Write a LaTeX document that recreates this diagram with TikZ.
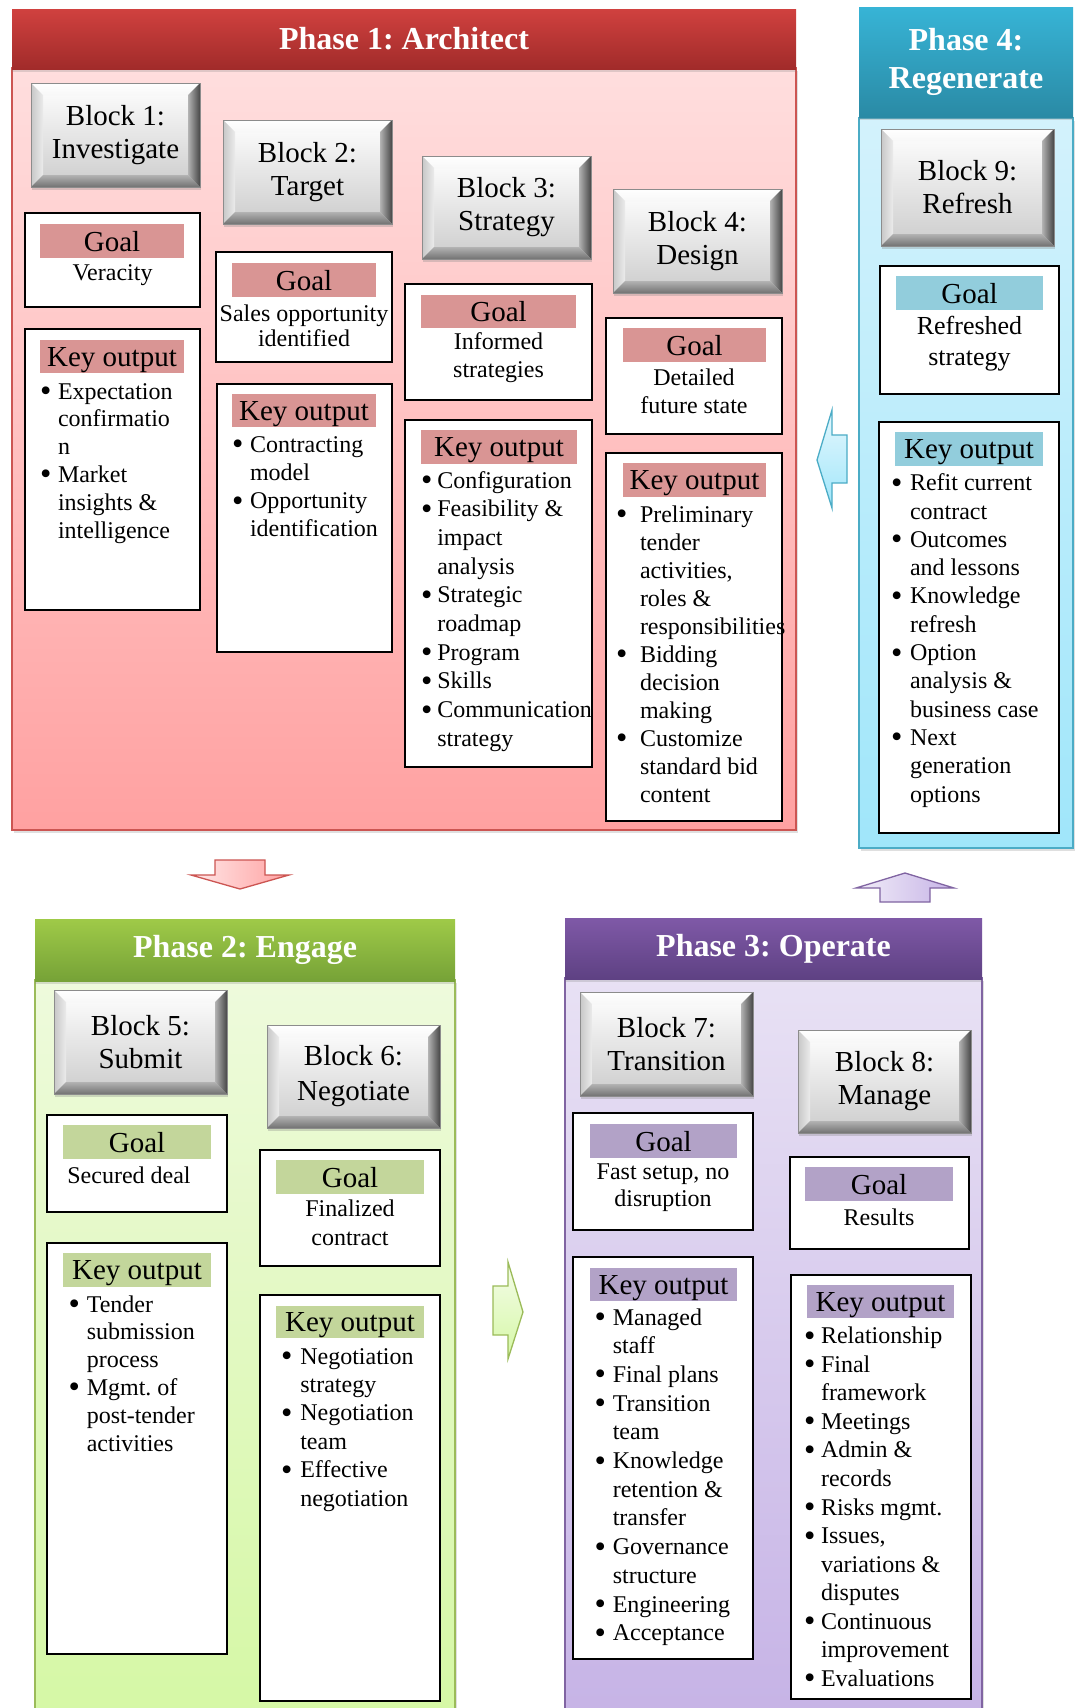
\documentclass[tikz,border=0pt]{standalone}
\usepackage{graphicx}
\usepackage{fontspec}
\setmainfont{Liberation Serif}
\usetikzlibrary{shadows}
\frenchspacing

\definecolor{p1hTop}{HTML}{D0413F}
\definecolor{p1hBot}{HTML}{A12B2A}
\definecolor{p1bTop}{HTML}{FFDEDE}
\definecolor{p1bBot}{HTML}{FFA1A1}
\definecolor{p1line}{HTML}{CC5552}
\definecolor{p1band}{HTML}{D99594}
\definecolor{p4hTop}{HTML}{37B4D6}
\definecolor{p4hBot}{HTML}{2A8AA5}
\definecolor{p4bTop}{HTML}{D3F2FC}
\definecolor{p4bBot}{HTML}{A0E6FA}
\definecolor{p4line}{HTML}{4BACC6}
\definecolor{p4band}{HTML}{92CDDC}
\definecolor{p2hTop}{HTML}{9FCA48}
\definecolor{p2hBot}{HTML}{76A237}
\definecolor{p2bTop}{HTML}{EEFADC}
\definecolor{p2bBot}{HTML}{D5F8A5}
\definecolor{p2line}{HTML}{9BBB59}
\definecolor{p2band}{HTML}{C3D69B}
\definecolor{p3hTop}{HTML}{7F59A7}
\definecolor{p3hBot}{HTML}{5E4183}
\definecolor{p3bTop}{HTML}{E8E1F4}
\definecolor{p3bBot}{HTML}{C6B3E6}
\definecolor{p3line}{HTML}{8064A2}
\definecolor{p3band}{HTML}{B2A2C7}

\newcommand{\kb}{\raisebox{-2.5pt}{\scalebox{1.35}{\textbullet}}}
\newcommand{\klist}[3]{{\fontsize{24}{#1}\selectfont\frenchspacing\begin{tabular}[t]{@{}p{#2}@{}l@{}}#3\end{tabular}}}

\tikzset{
  panelhead/.style={inner sep=0pt, outer sep=0pt, text=white, align=center,
    font=\fontsize{32}{38}\selectfont\bfseries,
    drop shadow={opacity=0.25, shadow xshift=0pt, shadow yshift=-3pt}},
  panelbody/.style={inner sep=0pt, outer sep=0pt, line width=1.5pt,
    drop shadow={opacity=0.25, shadow xshift=2pt, shadow yshift=-3pt}},
  bevelblock/.style={inner sep=0pt, outer sep=0pt, align=center,
    font=\fontsize{29}{33}\selectfont, draw=black!45, line width=0.4pt,
    drop shadow={opacity=0.3, shadow xshift=1pt, shadow yshift=-3pt},
    path picture={
      \path (path picture bounding box.south west) coordinate (bbsw)
            (path picture bounding box.north east) coordinate (bbne)
            (path picture bounding box.north west) coordinate (bbnw)
            (path picture bounding box.south east) coordinate (bbse);
      \shade[top color=white, bottom color=black!20] (bbsw) rectangle (bbne);
      \shade[top color=white, bottom color=black!3]
        (bbnw) -- (bbne) -- ([xshift=-12pt,yshift=-12pt]bbne) -- ([xshift=12pt,yshift=-12pt]bbnw) -- cycle;
      \shade[left color=black!22, right color=black!8]
        (bbnw) -- ([xshift=12pt,yshift=-12pt]bbnw) -- ([xshift=12pt,yshift=12pt]bbsw) -- (bbsw) -- cycle;
      \shade[left color=black!30, right color=black!72]
        (bbne) -- ([xshift=-12pt,yshift=-12pt]bbne) -- ([xshift=-12pt,yshift=12pt]bbse) -- (bbse) -- cycle;
      \shade[top color=black!30, bottom color=black!55]
        (bbsw) -- ([xshift=12pt,yshift=12pt]bbsw) -- ([xshift=-12pt,yshift=12pt]bbse) -- (bbse) -- cycle;
    }},
  wbox/.style={draw=black, line width=1.4pt, fill=white, inner sep=0pt, outer sep=0pt},
  band/.style={fill=#1, inner sep=0pt, outer sep=0pt, text depth=0pt, font=\fontsize{29}{33}\selectfont},
  gtext/.style={align=center, inner sep=0pt, font=\fontsize{24}{28}\selectfont},
  klistnode/.style={anchor=base west, inner sep=0pt, outer sep=0pt},
  blockarrow/.style={line width=1.3pt, line join=miter}
}

\begin{document}
\begin{tikzpicture}[x=1pt,y=-1pt]
\useasboundingbox[fill=white] (0,0) rectangle (1076,1708);

% ---------------- Phase 1 ----------------
\node[panelbody, draw=p1line, top color=p1bTop, bottom color=p1bBot,
  minimum width=784pt, minimum height=762pt] (p1b) at (404,449) {};
\node[panelhead, top color=p1hTop, bottom color=p1hBot,
  minimum width=784pt, minimum height=60pt] (p1h) at (404,39) {Phase 1: Architect};

\node[bevelblock, minimum width=169pt, minimum height=104pt] (b1) at (115.5,135) {Block 1:\\Investigate};
\node[bevelblock, minimum width=169pt, minimum height=104pt] (b2) at (307.5,172) {Block 2:\\Target};
\node[bevelblock, minimum width=169pt, minimum height=103pt] (b3) at (506.5,207.5) {Block 3:\\Strategy};
\node[bevelblock, minimum width=169pt, minimum height=104pt] (b4) at (697.5,241) {Block 4:\\Design};

\node[wbox, minimum width=175pt, minimum height=94pt] (g1) at (112.5,260) {};
\node[band=p1band, minimum width=144pt, minimum height=34pt] (g1b) at (112,241) {Goal};
\node[gtext] (g1t) at (112.5,275) {Veracity};

\node[wbox, minimum width=176pt, minimum height=110pt] (g2) at (304,307) {};
\node[band=p1band, minimum width=144pt, minimum height=34pt] (g2b) at (304,280) {Goal};
\node[gtext, font=\fontsize{24}{25}\selectfont] (g2t) at (304,325.5) {Sales opportunity\\identified};

\node[wbox, minimum width=187pt, minimum height=116pt] (g3) at (498.5,342) {};
\node[band=p1band, minimum width=155pt, minimum height=33pt] (g3b) at (498.5,311.5) {Goal};
\node[gtext] (g3t) at (498.5,358) {Informed\\strategies};

\node[wbox, minimum width=176pt, minimum height=116pt] (g4) at (694,376) {};
\node[band=p1band, minimum width=143pt, minimum height=34pt] (g4b) at (694.5,345) {Goal};
\node[gtext] (g4t) at (694,391) {Detailed\\future state};

\node[wbox, minimum width=175pt, minimum height=281pt] (k1) at (112.5,469.5) {};
\node[band=p1band, minimum width=144pt, minimum height=33pt] (k1b) at (112,356.5) {Key output};
\node[klistnode] (k1l) at (40,399) {\klist{27.8pt}{18pt}{%
  \kb & Expectation\\ & confirmatio\\ & n\\
  \kb & Market\\ & insights \&\\ & intelligence}};

\node[wbox, minimum width=175pt, minimum height=268pt] (k2) at (304.5,518) {};
\node[band=p1band, minimum width=144pt, minimum height=33pt] (k2b) at (304,410.5) {Key output};
\node[klistnode] (k2l) at (232,452) {\klist{28.3pt}{18pt}{%
  \kb & Contracting\\ & model\\
  \kb & Opportunity\\ & identification}};

\node[wbox, minimum width=187pt, minimum height=347pt] (k3) at (498.5,593.5) {};
\node[band=p1band, minimum width=156pt, minimum height=34pt] (k3b) at (499,447) {Key output};
\node[klistnode] (k3l) at (421,488) {\klist{28.7pt}{16.3pt}{%
  \kb & Configuration\\
  \kb & Feasibility \&\\ & impact\\ & analysis\\
  \kb & Strategic\\ & roadmap\\
  \kb & Program\\
  \kb & Skills\\
  \kb & Communication\\ & strategy}};

\node[wbox, minimum width=176pt, minimum height=368pt] (k4) at (694,637) {};
\node[band=p1band, minimum width=143pt, minimum height=34pt] (k4b) at (694.5,480) {Key output};
\node[klistnode] (k4l) at (616,522) {\klist{28pt}{24pt}{%
  \kb & Preliminary\\ & tender\\ & activities,\\ & roles \&\\ & responsibilities\\
  \kb & Bidding\\ & decision\\ & making\\
  \kb & Customize\\ & standard bid\\ & content}};

% ---------------- Phase 4 ----------------
\node[panelbody, draw=p4line, top color=p4bTop, bottom color=p4bBot,
  minimum width=214pt, minimum height=730pt] (p4b) at (966,483) {};
\node[panelhead, top color=p4hTop, bottom color=p4hBot,
  minimum width=214pt, minimum height=110pt] (p4h) at (966,62) {Phase 4:\\Regenerate};

\node[bevelblock, minimum width=173pt, minimum height=117pt] (b9) at (967.5,187.5) {Block 9:\\Refresh};

\node[wbox, minimum width=179pt, minimum height=128pt] (g9) at (969.5,330) {};
\node[band=p4band, minimum width=147pt, minimum height=34pt] (g9b) at (969.5,293) {Goal};
\node[gtext, font=\fontsize{26}{31}\selectfont] (g9t) at (969.5,343.5) {Refreshed\\strategy};

\node[wbox, minimum width=180pt, minimum height=411pt] (k9) at (969,627.5) {};
\node[band=p4band, minimum width=148pt, minimum height=34pt] (k9b) at (969,449) {Key output};
\node[klistnode] (k9l) at (891,490.7) {\klist{28.3pt}{19pt}{%
  \kb & Refit current\\ & contract\\
  \kb & Outcomes\\ & and lessons\\
  \kb & Knowledge\\ & refresh\\
  \kb & Option\\ & analysis \&\\ & business case\\
  \kb & Next\\ & generation\\ & options}};

% ---------------- Phase 2 ----------------
\node[panelbody, draw=p2line, top color=p2bTop, bottom color=p2bBot,
  minimum width=420pt, minimum height=740pt] (p2b) at (245,1350) {};
\node[panelhead, top color=p2hTop, bottom color=p2hBot,
  minimum width=420pt, minimum height=62pt] (p2h) at (245,950) {Phase 2: Engage};

\node[bevelblock, minimum width=173pt, minimum height=104pt] (b5) at (140.5,1042) {Block 5:\\Submit};
\node[bevelblock, minimum width=173pt, minimum height=103pt, font=\fontsize{29}{35}\selectfont] (b6) at (353.5,1076.5) {Block 6:\\Negotiate};

\node[wbox, minimum width=180pt, minimum height=97pt] (g5) at (137,1163.5) {};
\node[band=p2band, minimum width=148pt, minimum height=34pt] (g5b) at (137,1142) {Goal};
\node[gtext] (g5t) at (129,1175) {Secured deal};

\node[wbox, minimum width=180pt, minimum height=116pt] (g6) at (350,1208) {};
\node[band=p2band, minimum width=148pt, minimum height=34pt] (g6b) at (350,1177) {Goal};
\node[gtext, font=\fontsize{24}{29}\selectfont] (g6t) at (350,1222.5) {Finalized\\contract};

\node[wbox, minimum width=180pt, minimum height=411pt] (k5) at (137,1448.5) {};
\node[band=p2band, minimum width=148pt, minimum height=34pt] (k5b) at (137,1270) {Key output};
\node[klistnode] (k5l) at (68.5,1312) {\klist{27.8pt}{18.3pt}{%
  \kb & Tender\\ & submission\\ & process\\
  \kb & Mgmt. of\\ & post-tender\\ & activities}};

\node[wbox, minimum width=180pt, minimum height=406pt] (k6) at (350,1498) {};
\node[band=p2band, minimum width=148pt, minimum height=32pt] (k6b) at (350,1322) {Key output};
\node[klistnode] (k6l) at (281,1364) {\klist{28.4pt}{19.3pt}{%
  \kb & Negotiation\\ & strategy\\
  \kb & Negotiation\\ & team\\
  \kb & Effective\\ & negotiation}};

% ---------------- Phase 3 ----------------
\node[panelbody, draw=p3line, top color=p3bTop, bottom color=p3bBot,
  minimum width=417pt, minimum height=742pt] (p3b) at (773.5,1349) {};
\node[panelhead, top color=p3hTop, bottom color=p3hBot,
  minimum width=417pt, minimum height=61pt] (p3h) at (773.5,948.5) {Phase 3: Operate};

\node[bevelblock, minimum width=173pt, minimum height=104pt] (b7) at (666.5,1044) {Block 7:\\Transition};
\node[bevelblock, minimum width=173pt, minimum height=103pt] (b8) at (884.5,1081.5) {Block 8:\\Manage};

\node[wbox, minimum width=180pt, minimum height=117pt] (g7) at (663,1171.5) {};
\node[band=p3band, minimum width=147pt, minimum height=34pt] (g7b) at (663.5,1141) {Goal};
\node[gtext, font=\fontsize{24}{27}\selectfont] (g7t) at (663,1187.5) {Fast setup, no\\disruption};

\node[wbox, minimum width=179pt, minimum height=92pt] (g8) at (879.5,1203) {};
\node[band=p3band, minimum width=148pt, minimum height=34pt] (g8b) at (879,1184) {Goal};
\node[gtext] (g8t) at (879,1217) {Results};

\node[wbox, minimum width=180pt, minimum height=402pt] (k7) at (663,1458) {};
\node[band=p3band, minimum width=147pt, minimum height=33pt] (k7b) at (663.5,1284.5) {Key output};
\node[klistnode] (k7l) at (594.5,1325) {\klist{28.7pt}{18.3pt}{%
  \kb & Managed\\ & staff\\
  \kb & Final plans\\
  \kb & Transition\\ & team\\
  \kb & Knowledge\\ & retention \&\\ & transfer\\
  \kb & Governance\\ & structure\\
  \kb & Engineering\\
  \kb & Acceptance}};

\node[wbox, minimum width=180pt, minimum height=424pt] (k8) at (881,1487) {};
\node[band=p3band, minimum width=147pt, minimum height=33pt] (k8b) at (880.5,1301.5) {Key output};
\node[klistnode] (k8l) at (804,1343.7) {\klist{28.55pt}{17pt}{%
  \kb & Relationship\\
  \kb & Final\\ & framework\\
  \kb & Meetings\\
  \kb & Admin \&\\ & records\\
  \kb & Risks mgmt.\\
  \kb & Issues,\\ & variations \&\\ & disputes\\
  \kb & Continuous\\ & improvement\\
  \kb & Evaluations}};

% ---------------- Block arrows between phases ----------------
\draw[blockarrow, draw=p1line, left color=p1bTop!70!white, right color=p1bBot]
  (215,860) -- (265,860) -- (265,875) -- (289,875) -- (240,889) -- (191,875) -- (215,875) -- cycle;
\draw[blockarrow, draw=p4line, top color=p4bTop!60!white, bottom color=p4bBot]
  (847,435) -- (847,483) -- (832,483) -- (832,508) -- (817,460) -- (832,410) -- (832,435) -- cycle;
\draw[blockarrow, draw=p2line, top color=p2bTop!60!white, bottom color=p2bBot]
  (493,1286) -- (508,1286) -- (508,1262) -- (523,1312) -- (508,1359) -- (508,1335) -- (493,1335) -- cycle;
\draw[blockarrow, draw=p3line, left color=p3bTop!60!white, right color=p3bBot]
  (880,902) -- (880,888) -- (856,888) -- (905,873) -- (954,888) -- (930,888) -- (930,902) -- cycle;

\end{tikzpicture}
\end{document}
